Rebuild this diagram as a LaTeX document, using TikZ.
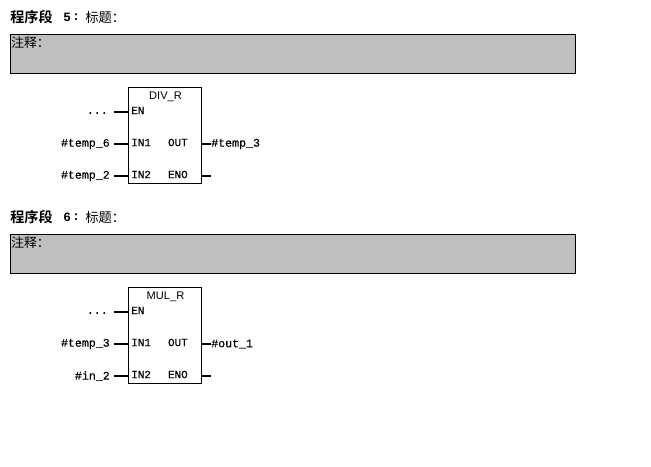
\documentclass[tikz,border=0pt]{standalone}
\usepackage{fontspec}
\setmainfont{Liberation Sans}
\setmonofont{Liberation Mono}
\newfontfamily\cjk{Noto Sans CJK SC}
\newfontfamily\cjkb{Noto Sans CJK SC Bold}
\newfontfamily\pinfont[FakeBold=0.25]{Liberation Mono}
\tikzset{
  px/.style={x=0.75pt,y=-0.75pt},
  comment/.style={draw=black,line width=0.75pt,fill=black!25,minimum width=423.75pt,minimum height=29.25pt,inner sep=0pt,anchor=north west},
  fbbox/.style={draw=black,line width=0.75pt,fill=white,minimum width=54.75pt,minimum height=72pt,inner sep=0pt,anchor=north west},
  stub/.style={line width=1.5pt,black},
  sig/.style={font=\pinfont\fontsize{8.7pt}{10pt}\selectfont,inner sep=0pt,text=black},
  pinl/.style={font=\pinfont\fontsize{8.2pt}{10pt}\selectfont,inner sep=0pt,text=black},
  fbname/.style={font=\fontsize{8.3pt}{10pt}\selectfont,inner sep=0pt,text=black},
  heading/.style={inner sep=0pt,anchor=west,text=black,font=\cjkb\fontsize{10.6pt}{12pt}\selectfont},
  headnum/.style={inner sep=0pt,anchor=west,text=black,font=\ttfamily\bfseries\fontsize{9.5pt}{12pt}\selectfont},
  headtitle/.style={inner sep=0pt,anchor=west,text=black,font=\cjk\fontsize{10pt}{12pt}\selectfont},
  note/.style={inner sep=0pt,anchor=west,text=black,font=\cjk\fontsize{9.6pt}{11pt}\selectfont},
}
\newcommand{\network}[7]{% prefix, y offset, number, name, in1, in2, out
  \node[heading] (#1h) at (10,17+#2) {程序段};
  \node[headnum] (#1m) at (63,17.5+#2) {#3};
  \node[headnum] (#1d) at (72,17.5+#2) {:};
  \node[headtitle] (#1k) at (85,17+#2) {标题：};
  \node[comment] (#1c) at (10,34+#2) {};
  \node[note] (#1n) at (11,43+#2) {注释：};
  \node[fbbox] (#1b) at (128,87+#2) {};
  \node[fbname] (#1t) at (165.5,97+#2) {#4};
  \node[pinl,anchor=west] (#1en) at (131,110.5+#2) {EN};
  \node[pinl,anchor=west] (#1i1) at (131,142.5+#2) {IN1};
  \node[pinl,anchor=west] (#1i2) at (131,174.5+#2) {IN2};
  \node[pinl,anchor=east] (#1o) at (188,142.5+#2) {OUT};
  \node[pinl,anchor=east] (#1e) at (188,174.5+#2) {ENO};
  \node[sig,anchor=east] (#1a0) at (108,113+#2) {...};
  \node[sig,anchor=east] (#1a1) at (110,144+#2) {#5};
  \node[sig,anchor=east] (#1a2) at (110,176+#2) {#6};
  \node[sig,anchor=west] (#1a3) at (211,144+#2) {#7};
  \coordinate (#1p0) at (114,112+#2);
  \coordinate (#1p1) at (114,144+#2);
  \coordinate (#1p2) at (114,176+#2);
  \coordinate (#1q1) at (211,144+#2);
  \coordinate (#1q2) at (211,176+#2);
  \draw[stub] (#1p0) -- (#1p0 -| #1b.west);
  \draw[stub] (#1p1) -- (#1p1 -| #1b.west);
  \draw[stub] (#1p2) -- (#1p2 -| #1b.west);
  \draw[stub] (#1q1) -- (#1q1 -| #1b.east);
  \draw[stub] (#1q2) -- (#1q2 -| #1b.east);
}
\begin{document}
\begin{tikzpicture}[px]
\useasboundingbox[fill=white] (0,0) rectangle (651,467);
\network{a}{0}{5}{DIV\_R}{\#temp\_6}{\#temp\_2}{\#temp\_3}
\network{b}{200}{6}{MUL\_R}{\#temp\_3}{\#in\_2}{\#out\_1}
\end{tikzpicture}
\end{document}
